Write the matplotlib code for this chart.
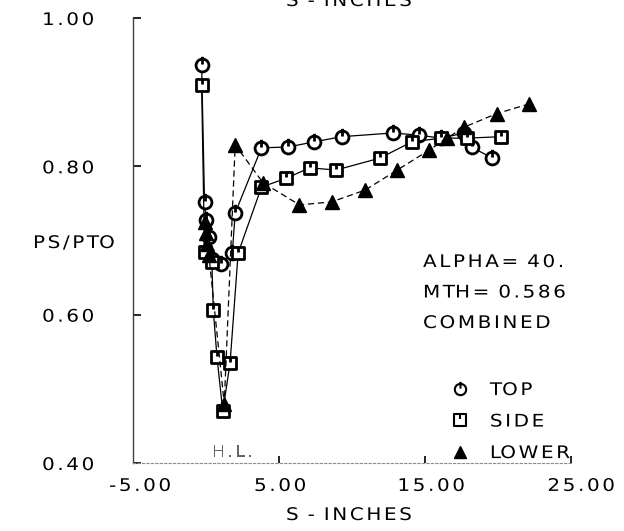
import numpy as np
import matplotlib
matplotlib.use("Agg")
import matplotlib.pyplot as plt
from matplotlib.path import Path
from matplotlib.lines import Line2D
from matplotlib.patheffects import AbstractPathEffect
from matplotlib.transforms import ScaledTranslation

# ---- data: pressure ratio along the surface -------------------------------
top_s = [-0.3, -0.1, 0.0, 0.2, 0.4, 1.0, 1.8, 2.0, 3.8, 5.6, 7.4, 9.3,
         12.8, 14.6, 16.1, 17.7, 18.2, 19.6]
top_p = [0.937, 0.752, 0.728, 0.705, 0.675, 0.668, 0.683, 0.737, 0.825,
         0.826, 0.833, 0.840, 0.845, 0.842, 0.838, 0.845, 0.826, 0.811]

side_s = [-0.3, -0.1, 0.4, 0.5, 0.75, 1.15, 1.65, 2.2, 3.8, 5.5, 7.1, 8.9,
          11.9, 14.1, 16.1, 17.9, 20.2]
side_p = [0.910, 0.684, 0.671, 0.606, 0.543, 0.470, 0.535, 0.683, 0.772,
          0.784, 0.798, 0.795, 0.811, 0.833, 0.838, 0.838, 0.840]

lower_s = [-0.1, 0.0, 0.1, 0.2, 1.25, 2.0, 3.9, 6.4, 8.6, 10.9, 13.1, 15.3,
           16.5, 17.7, 19.9, 22.1]
lower_p = [0.725, 0.710, 0.695, 0.680, 0.480, 0.829, 0.778, 0.748, 0.752,
           0.768, 0.795, 0.822, 0.838, 0.853, 0.871, 0.884]

x_ticks = [-5, 5, 15, 25]
x_labels = ["-5.00", "5.00", "15.00", "25.00"]
y_ticks = [0.40, 0.60, 0.80, 1.00]
y_labels = ["0.40", "0.60", "0.80", "1.00"]

series_names = ["TOP", "SIDE", "LOWER"]
info_lines = ["ALPHA= 40.", "MTH= 0.586", "COMBINED"]


# ---- plotter-style lettering: wide glyphs, spread apart -------------------
class Plotter(AbstractPathEffect):
    """Widen glyphs by `sx` and spread them apart by `em` (fraction of em)."""

    def __init__(self, em=0.15, sx=1.15, anchor="left"):
        super().__init__()
        self.em = em
        self.sx = sx
        self.anchor = anchor

    def draw_path(self, renderer, gc, tpath, affine, rgbFace=None):
        codes = tpath.codes
        verts = np.array(tpath.vertices, dtype=float)
        if codes is None or len(verts) == 0:
            renderer.draw_path(gc, tpath, affine, rgbFace)
            return
        starts = list(np.flatnonzero(codes == Path.MOVETO)) + [len(codes)]
        contours = []
        for a, b in zip(starts[:-1], starts[1:]):
            xs = verts[a:b, 0]
            contours.append((xs.min(), xs.max(), a, b))
        contours.sort(key=lambda c: c[0])
        groups = []
        for x0, x1, a, b in contours:
            if groups and x0 < groups[-1][1] - 1e-6:
                groups[-1][1] = max(groups[-1][1], x1)
                groups[-1][2].append((a, b))
            else:
                groups.append([x0, x1, [(a, b)]])
        width = verts[:, 0].max()
        gap = self.em * 100.0
        for i, g in enumerate(groups):
            for a, b in g[2]:
                verts[a:b, 0] = verts[a:b, 0] * self.sx + i * gap
        extra = width * (self.sx - 1) + gap * (len(groups) - 1)
        shift = {"left": 0.0, "center": -extra / 2, "right": -extra}[self.anchor]
        verts[:, 0] += shift
        renderer.draw_path(gc, Path(verts, codes), affine, rgbFace)


def lettering(anchor="left"):
    return [Plotter(anchor=anchor)]


# ---- marker shapes ---------------------------------------------------------
circle_tick = Path.make_compound_path(
    Path.unit_circle(),
    Path([(0, 0.15), (0, 1.35)], [Path.MOVETO, Path.LINETO]))
square_tick = Path.make_compound_path(
    Path([(-1, -1), (1, -1), (1, 1), (-1, 1), (-1, -1)],
         [Path.MOVETO, Path.LINETO, Path.LINETO, Path.LINETO, Path.CLOSEPOLY]),
    Path([(0, 0.2), (0, 1.0)], [Path.MOVETO, Path.LINETO]))

FS = 12.5
plt.rcParams["font.family"] = ["DejaVu Sans"]

fig = plt.figure(figsize=(6.24, 5.31), dpi=100)
ax = fig.add_axes([133 / 624, 68 / 531, 438 / 624, 445 / 531])


def ax_xy(px, py):
    """Figure pixel position (from top-left) to axes fraction."""
    return (px - 133) / 438, (463 - py) / 445


ax.plot(top_s, top_p, color="black", lw=0.9, marker=circle_tick, ms=12.5,
        mfc="white", mec="black", mew=2.0, zorder=3)
ax.plot(side_s, side_p, color="black", lw=0.9, marker=square_tick, ms=9,
        mfc="white", mec="black", mew=2.0, zorder=3)
ax.plot(lower_s, lower_p, color="black", lw=0.9, ls=(0, (5, 3)), marker="^",
        ms=9.5, mfc="black", mec="black", zorder=4)

ax.set_xlim(-5, 25)
ax.set_ylim(0.40, 1.00)

# axes frame: left line with inward ticks, faint dotted base line
for side in ("top", "right"):
    ax.spines[side].set_visible(False)
ax.spines["left"].set_color("0.25")
ax.spines["left"].set_linewidth(1.0)
ax.spines["bottom"].set_color("0.55")
ax.spines["bottom"].set_linewidth(0.8)
ax.spines["bottom"].set_linestyle((0, (2, 2)))

ax.set_yticks(y_ticks)
ax.set_yticklabels(y_labels, ha="left")
ax.tick_params(axis="y", direction="in", length=6, width=1.2, pad=65.5,
               labelsize=FS, colors="black")
ax.set_xticks(x_ticks)
ax.set_xticklabels(x_labels)
ax.tick_params(axis="x", direction="in", length=5, width=1.2, pad=10,
               labelsize=FS, colors="black")
ax.xaxis.get_major_ticks()[0].tick1line.set_visible(False)
for lab in ax.get_yticklabels():
    lab.set_path_effects(lettering("left"))
# printed labels sit a little right of their tick marks
label_nudge_px = [7, 1, 6, 10]
for lab, dx in zip(ax.get_xticklabels(), label_nudge_px):
    lab.set_path_effects(lettering("center"))
    lab.set_transform(lab.get_transform()
                      + ScaledTranslation(dx / 100, 0, fig.dpi_scale_trans))

ax.set_ylabel("PS/PTO", rotation=0, ha="left", va="center", fontsize=FS)
ax.yaxis.set_label_coords(*ax_xy(33, 243))
ax.yaxis.label.set_path_effects(lettering("left"))
ax.set_xlabel("S - INCHES", ha="center", va="center", fontsize=FS)
ax.xaxis.set_label_coords(*ax_xy(349, 515))
ax.xaxis.label.set_path_effects(lettering("center"))

# run information
for i, line in enumerate(info_lines):
    ax.text(*ax_xy(423, 262 + 30.5 * i), line, transform=ax.transAxes,
            fontsize=FS, ha="left", va="center", path_effects=lettering("left"))

# hinge-line marker on the base line
ax.text(*ax_xy(212, 452), "H.L.", transform=ax.transAxes, fontsize=FS - 1.5,
        color="0.4", ha="left", va="center", path_effects=lettering("left"))

# legend
handles = [
    Line2D([], [], ls="none", marker=circle_tick, ms=11, mfc="white",
           mec="black", mew=1.5),
    Line2D([], [], ls="none", marker=square_tick, ms=8, mfc="white",
           mec="black", mew=1.5),
    Line2D([], [], ls="none", marker="^", ms=8, mfc="black", mec="black"),
]
leg = ax.legend(handles, series_names, loc="upper left",
                bbox_to_anchor=ax_xy(451, 381),
                frameon=False, fontsize=FS, handlelength=1.0,
                handletextpad=1.24, labelspacing=0.78, borderpad=0,
                borderaxespad=0)
for t in leg.get_texts():
    t.set_path_effects(lettering("left"))

# axis title of the plot above, cut by the page edge
fig.text(349 / 624, 1 - 1 / 531, "S - INCHES", fontsize=FS, ha="center",
         va="center", path_effects=lettering("center"))

fig.savefig("out.png", dpi=100)
